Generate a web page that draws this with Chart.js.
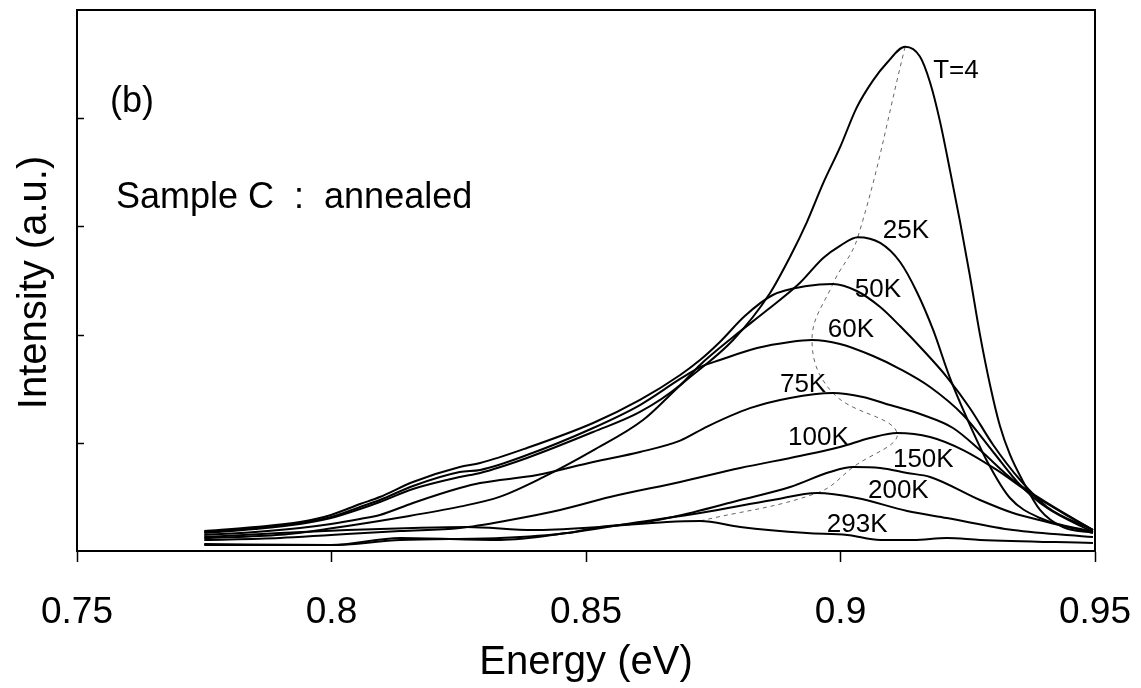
<!DOCTYPE html>
<html>
<head>
<meta charset="utf-8">
<title>PL spectra vs temperature</title>
<script src="https://cdn.jsdelivr.net/npm/chart.js@4.4.1/dist/chart.umd.min.js"></script>
<style>
    html, body { margin: 0; padding: 0; background: #fff; }
    #wrap { width: 1141px; height: 688px; }
</style>
</head>
<body>
<div id="wrap"><canvas id="pl" width="1141" height="688"></canvas></div>
<script>
// PL spectra of sample C (annealed), one curve per temperature
// each entry: [energy (eV), intensity (a.u.)]

const pl4K = [
    [0.775, 0.12], [0.790, 0.15], [0.800, 0.21], [0.8135, 0.31], [0.8252, 0.41],
    [0.833, 0.50], [0.8415, 0.68], [0.8514, 0.93], [0.8612, 1.21], [0.8685, 1.53],
    [0.8789, 1.95], [0.8861, 2.38], [0.8901, 2.72], [0.8934, 3.04], [0.8966, 3.40],
    [0.8999, 3.73], [0.9032, 4.10], [0.9064, 4.35], [0.9091, 4.51], [0.9127, 4.66],
    [0.9156, 4.57], [0.9176, 4.33], [0.9195, 3.98], [0.9215, 3.52], [0.9235, 3.04],
    [0.9254, 2.55], [0.9274, 2.00], [0.9294, 1.53], [0.9313, 1.16], [0.9333, 0.89],
    [0.9359, 0.64], [0.9392, 0.38], [0.9437, 0.22], [0.9496, 0.17]
];

const pl25K = [
    [0.775, 0.166], [0.785, 0.203], [0.7938, 0.250], [0.7999, 0.305], [0.8056, 0.388],
    [0.8095, 0.453], [0.816, 0.573], [0.8252, 0.684], [0.8292, 0.721], [0.8384, 0.860],
    [0.8514, 1.100], [0.8606, 1.285], [0.8685, 1.534], [0.8724, 1.720], [0.8789, 1.978],
    [0.8856, 2.227], [0.892, 2.477], [0.8966, 2.708], [0.8999, 2.820], [0.9034, 2.900],
    [0.9078, 2.847], [0.9117, 2.671], [0.915, 2.394], [0.9182, 2.043], [0.9215, 1.600],
    [0.9249, 1.220], [0.9288, 0.830], [0.9333, 0.490], [0.9392, 0.305], [0.9496, 0.176]
];

const pl50K = [
    [0.775, 0.185], [0.785, 0.222], [0.7938, 0.268], [0.7999, 0.333], [0.8056, 0.434],
    [0.8095, 0.499], [0.816, 0.638], [0.8252, 0.776], [0.8292, 0.813], [0.8384, 0.952],
    [0.8514, 1.183], [0.8606, 1.396], [0.8685, 1.627], [0.8724, 1.765], [0.8763, 1.932],
    [0.8812, 2.172], [0.8867, 2.366], [0.8934, 2.449], [0.8985, 2.468], [0.9032, 2.403],
    [0.9078, 2.255], [0.9117, 2.079], [0.9162, 1.858], [0.9209, 1.608], [0.9254, 1.322],
    [0.930, 0.980], [0.9353, 0.656], [0.9406, 0.407], [0.9496, 0.194]
];

const pl60K = [
    [0.775, 0.176], [0.785, 0.213], [0.7938, 0.259], [0.7999, 0.314], [0.8056, 0.407],
    [0.8095, 0.471], [0.816, 0.601], [0.8252, 0.730], [0.8292, 0.749], [0.8384, 0.887],
    [0.8514, 1.137], [0.8606, 1.349], [0.8685, 1.590], [0.8724, 1.700], [0.8763, 1.765],
    [0.8836, 1.876], [0.8901, 1.932], [0.8944, 1.950], [0.8999, 1.913], [0.9064, 1.802],
    [0.9117, 1.682], [0.9176, 1.516], [0.9241, 1.257], [0.930, 0.915], [0.9353, 0.610],
    [0.9406, 0.397], [0.9496, 0.176]
];

const pl75K = [
    [0.775, 0.148], [0.785, 0.176], [0.7938, 0.213], [0.7999, 0.250], [0.8056, 0.296],
    [0.8095, 0.333], [0.816, 0.444], [0.8252, 0.582], [0.8292, 0.628], [0.8404, 0.702],
    [0.8514, 0.823], [0.8606, 0.915], [0.8685, 1.020], [0.8738, 1.150], [0.8822, 1.320],
    [0.8901, 1.415], [0.8985, 1.460], [0.9044, 1.423], [0.9097, 1.349], [0.9162, 1.257],
    [0.9221, 1.137], [0.9274, 0.933], [0.9339, 0.656], [0.9406, 0.444], [0.9496, 0.194]
];

const pl100K = [
    [0.775, 0.102], [0.7899, 0.120], [0.7999, 0.148], [0.8135, 0.185], [0.8252, 0.213],
    [0.8351, 0.287], [0.8449, 0.379], [0.8547, 0.499], [0.8685, 0.638], [0.8803, 0.767],
    [0.892, 0.878], [0.8999, 0.961], [0.9058, 1.044], [0.9111, 1.091], [0.9176, 1.054],
    [0.9241, 0.933], [0.9307, 0.749], [0.9372, 0.536], [0.9437, 0.351], [0.9496, 0.194]
];

const pl150K = [
    [0.775, 0.065], [0.7999, 0.055], [0.8135, 0.102], [0.8331, 0.120], [0.8463, 0.166],
    [0.8527, 0.222], [0.8606, 0.259], [0.8671, 0.314], [0.8803, 0.471], [0.8901, 0.591],
    [0.8979, 0.730], [0.9025, 0.776], [0.9078, 0.767], [0.9131, 0.721], [0.9176, 0.684],
    [0.9274, 0.471], [0.9339, 0.351], [0.9406, 0.268], [0.9496, 0.166]
];

const pl200K = [
    [0.775, 0.055], [0.7999, 0.055], [0.8135, 0.120], [0.8331, 0.102], [0.8463, 0.166],
    [0.8592, 0.259], [0.8724, 0.351], [0.8867, 0.471], [0.8954, 0.536], [0.9032, 0.490],
    [0.9131, 0.370], [0.9209, 0.305], [0.9339, 0.194], [0.9496, 0.129]
];

const pl293K = [
    [0.775, 0.129], [0.7899, 0.166], [0.8031, 0.194], [0.816, 0.213], [0.8266, 0.222],
    [0.8396, 0.194], [0.8527, 0.222], [0.8659, 0.268], [0.8724, 0.277], [0.8803, 0.222],
    [0.8934, 0.166], [0.9013, 0.148], [0.9078, 0.102], [0.9143, 0.102], [0.9209, 0.120],
    [0.9274, 0.102], [0.9496, 0.074]
];

const spectra = [pl4K, pl25K, pl50K, pl60K, pl75K, pl100K, pl150K, pl200K, pl293K];
const tempLabels = ["T=4", "25K", "50K", "60K", "75K", "100K", "150K", "200K", "293K"];

// where each temperature tag sits (left edge / baseline, in data units)
const tagAnchors = [
    [0.9182, 4.37], [0.9083, 2.89], [0.9028, 2.35], [0.8975, 1.98], [0.8881, 1.47],
    [0.8897, 0.98], [0.9103, 0.78], [0.9054, 0.49], [0.8973, 0.18]
];

const energyTicks = [0.75, 0.8, 0.85, 0.9, 0.95];
const energyTickLabels = ["0.75", "0.8", "0.85", "0.9", "0.95"];
const intensityTicks = [0, 1, 2, 3, 4, 5];

const FONT = "'Liberation Sans', Arial, sans-serif";

// ------------------------------------------------------------
// peak of every spectrum -> dotted guide line
// ------------------------------------------------------------
function peakOf(series) {
    let best = series[0];
    series.forEach(p => { if (p[1] > best[1]) best = p; });
    return { x: best[0], y: best[1] };
}
const peakTrack = spectra.map(peakOf);

// ------------------------------------------------------------
// frame, inward y ticks, texts
// ------------------------------------------------------------
const decorPlugin = {
    id: "decor",
    afterDraw(chart) {
        const { ctx, chartArea: a, scales } = chart;
        const xs = scales.x, ys = scales.y;
        ctx.save();

        // box around the plot
        ctx.strokeStyle = "#000";
        ctx.lineWidth = 2;
        ctx.strokeRect(a.left, a.top, a.right - a.left, a.bottom - a.top);

        // short ticks pointing into the plot
        ctx.lineWidth = 1.5;
        intensityTicks.slice(1, -1).forEach(v => {
            const py = Math.round(ys.getPixelForValue(v)) + 0.5;
            ctx.beginPath();
            ctx.moveTo(a.left, py);
            ctx.lineTo(a.left + 7, py);
            ctx.stroke();
        });

        ctx.fillStyle = "#000";

        // x tick labels
        ctx.font = `37px ${FONT}`;
        ctx.textAlign = "center";
        ctx.textBaseline = "alphabetic";
        energyTicks.forEach((v, i) => {
            ctx.fillText(energyTickLabels[i], xs.getPixelForValue(v), a.bottom + 72);
        });

        // axis titles
        ctx.font = `40px ${FONT}`;
        ctx.fillText("Energy (eV)", (a.left + a.right) / 2, a.bottom + 123);
        ctx.save();
        ctx.translate(46, (a.top + a.bottom) / 2 + 2);
        ctx.rotate(-Math.PI / 2);
        ctx.fillText("Intensity (a.u.)", 0, 0);
        ctx.restore();

        // panel tag and sample name
        ctx.textAlign = "left";
        ctx.font = `36px ${FONT}`;
        ctx.fillText("(b)", a.left + 33, a.top + 102);
        ctx.fillText("Sample C  :  annealed", a.left + 39, a.top + 198);

        // temperature tags
        ctx.font = `26px ${FONT}`;
        tempLabels.forEach((t, i) => {
            const [ex, iy] = tagAnchors[i];
            ctx.fillText(t, xs.getPixelForValue(ex), ys.getPixelForValue(iy));
        });

        ctx.restore();
    }
};

// ------------------------------------------------------------
// chart
// ------------------------------------------------------------
const datasets = spectra.map((s, i) => ({
    label: tempLabels[i],
    data: s.map(p => ({ x: p[0], y: p[1] })),
    borderColor: "#000",
    borderWidth: 2,
    pointRadius: 0,
    cubicInterpolationMode: "monotone",
    fill: false,
}));

datasets.push({
    label: "peak",
    data: peakTrack,
    borderColor: "#666",
    borderWidth: 1,
    borderDash: [4, 4],
    pointRadius: 0,
    tension: 0.4,
    fill: false,
});

new Chart(document.getElementById("pl"), {
    type: "line",
    data: { datasets },
    options: {
        responsive: false,
        animation: false,
        events: [],
        layout: { padding: { left: 0, top: 10, right: 46, bottom: 0 } },
        plugins: {
            legend: { display: false },
            tooltip: { enabled: false },
        },
        scales: {
            x: {
                type: "linear",
                min: 0.75,
                max: 0.95,
                afterBuildTicks: sc => { sc.ticks = energyTicks.map(v => ({ value: v })); },
                afterFit: sc => { sc.height = 137; },
                ticks: { display: false },
                grid: {
                    drawOnChartArea: false,
                    drawTicks: true,
                    tickLength: 11,
                    tickWidth: 1.5,
                    tickColor: "#000",
                },
                border: { display: true, color: "#000", width: 2 },
            },
            y: {
                type: "linear",
                min: 0,
                max: 5,
                afterBuildTicks: sc => { sc.ticks = intensityTicks.map(v => ({ value: v })); },
                afterFit: sc => { sc.width = 77; },
                ticks: { display: false },
                grid: { drawOnChartArea: false, drawTicks: false },
                border: { display: true, color: "#000", width: 2 },
            },
        },
    },
    plugins: [decorPlugin],
});
</script>
</body>
</html>
